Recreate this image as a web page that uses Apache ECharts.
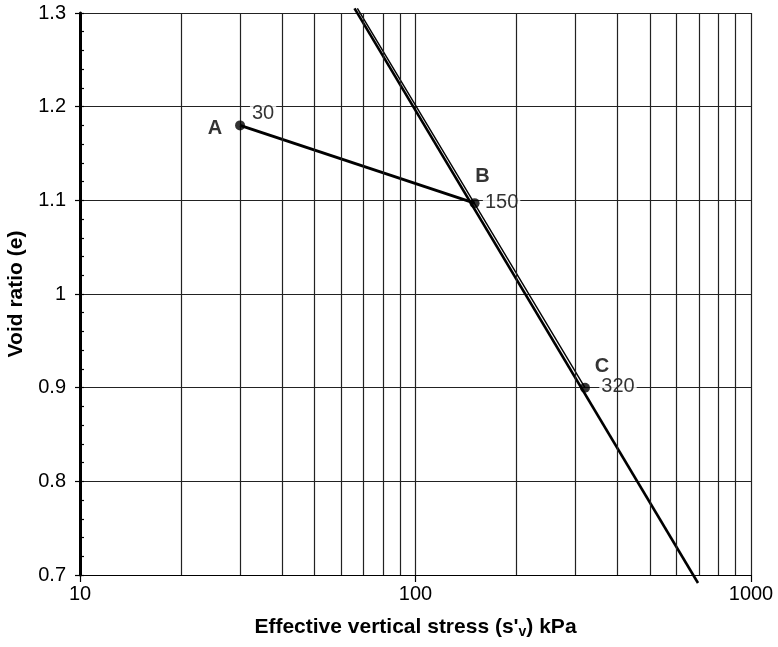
<!DOCTYPE html>
<html>
<head>
<meta charset="utf-8">
<script src="https://cdn.jsdelivr.net/npm/echarts@6/dist/echarts.min.js"></script>
<style>
  html, body { margin: 0; padding: 0; background: #fff; }
  #chart { width: 778px; height: 647px; }
</style>
</head>
<body>
<div id="chart"></div>
<script>
// points on the path
const pointNames = ['A', 'B', 'C']
const pointStress = [30, 150, 320]
const pointVoid = [1.18, 1.097, 0.9]
const pointTags = ['30', '150', '320']

// normal consolidation line (extends past the frame)
const nclStress = [65.8, 695]
const nclVoid = [1.305, 0.6915]

// second line running beside the NCL down to C
const sideStress = [67.1, 320]
const sideVoid = [1.305, 0.9]

// loading path A -> B
const pathStress = [30, 150]
const pathVoid = [1.18, 1.097]

// log grid lines between the decades
const xMinorGrid = [20, 30, 40, 50, 60, 70, 80, 90, 200, 300, 400, 500, 600, 700, 800, 900]

const letterOffset = [[-25, 3], [8, -27], [17, -21]]
const tagOffset = [[23, -12], [27, -1], [33, -1]]

const font = 'Liberation Sans, Arial, Helvetica, sans-serif'
const ink = '#000'

const zip = (xs, ys) => xs.map((x, i) => [x, ys[i]])

const chart = echarts.init(document.getElementById('chart'))

const option = {
  animation: false,
  backgroundColor: '#fff',
  grid: { left: 80, right: 27, top: 13, bottom: 72, outerBoundsMode: 'none', containLabel: false },
  xAxis: {
    type: 'log',
    logBase: 10,
    min: 10,
    max: 1000,
    name: "Effective vertical stress (s'{sub|v}) kPa",
    nameLocation: 'middle',
    nameGap: 40,
    nameTextStyle: {
      fontFamily: font, fontSize: 21, fontWeight: 'bold', color: ink,
      rich: { sub: { fontFamily: font, fontSize: 14, fontWeight: 'bold', color: ink, padding: [10, 0, 0, 0] } }
    },
    axisLine: { show: true, lineStyle: { color: ink, width: 1.2 } },
    axisTick: { show: true, length: 7, lineStyle: { color: ink, width: 1.2 } },
    axisLabel: { fontFamily: font, fontSize: 20, color: ink, margin: 9, formatter: v => String(v) },
    splitLine: { show: true, lineStyle: { color: '#222', width: 1.2 } },
    minorTick: { show: false },
    minorSplitLine: { show: false }
  },
  yAxis: [
    {
      type: 'value',
      min: 0.7,
      max: 1.3,
      interval: 0.1,
      name: 'Void ratio (e)',
      nameLocation: 'middle',
      nameGap: 53,
      nameTextStyle: { fontFamily: font, fontSize: 21, fontWeight: 'bold', color: ink },
      axisLine: { show: true, lineStyle: { color: ink, width: 3 } },
      axisTick: { show: true, length: 5, lineStyle: { color: ink, width: 1.2 } },
      axisLabel: { fontFamily: font, fontSize: 20, color: ink, margin: 14 },
      splitLine: { show: true, lineStyle: { color: '#222', width: 1.2 } }
    },
    {
      type: 'value',
      min: 0.7,
      max: 1.3,
      interval: 0.02,
      position: 'left',
      axisLine: { show: false },
      axisTick: { show: true, inside: true, length: 4, lineStyle: { color: ink, width: 1.2 } },
      axisLabel: { show: false },
      splitLine: { show: false }
    }
  ],
  series: [
    {
      name: 'grid',
      type: 'line',
      data: [],
      silent: true,
      markLine: {
        silent: true,
        symbol: 'none',
        label: { show: false },
        lineStyle: { color: '#222', width: 1.2, type: 'solid' },
        data: xMinorGrid.map(v => ({ xAxis: v }))
      }
    },
    {
      name: 'NCL',
      type: 'line',
      data: zip(nclStress, nclVoid),
      showSymbol: false,
      clip: false,
      lineStyle: { color: ink, width: 2.6 },
      z: 3
    },
    {
      name: 'side',
      type: 'line',
      data: zip(sideStress, sideVoid),
      showSymbol: false,
      clip: false,
      lineStyle: { color: ink, width: 1.4 },
      z: 3
    },
    {
      name: 'path',
      type: 'line',
      data: zip(pathStress, pathVoid),
      showSymbol: false,
      lineStyle: { color: ink, width: 3 },
      z: 3
    },
    {
      name: 'tags',
      type: 'scatter',
      symbolSize: 0,
      data: pointStress.map((x, i) => ({
        value: [x, pointVoid[i]],
        label: {
          show: true,
          position: 'inside',
          offset: tagOffset[i],
          formatter: pointTags[i],
          fontFamily: font,
          fontSize: 20,
          color: ink,
          backgroundColor: '#fff',
          padding: [3, 2, 1, 2]
        }
      })),
      z: 4
    },
    {
      name: 'points',
      type: 'scatter',
      symbol: 'circle',
      symbolSize: 10,
      itemStyle: { color: ink },
      data: pointStress.map((x, i) => ({
        value: [x, pointVoid[i]],
        label: {
          show: true,
          position: 'inside',
          offset: letterOffset[i],
          formatter: pointNames[i],
          fontFamily: font,
          fontSize: 20,
          fontWeight: 'bold',
          color: ink
        }
      })),
      z: 5
    }
  ]
}

chart.setOption(option)
window.onresize = () => chart.resize()
</script>
</body>
</html>
